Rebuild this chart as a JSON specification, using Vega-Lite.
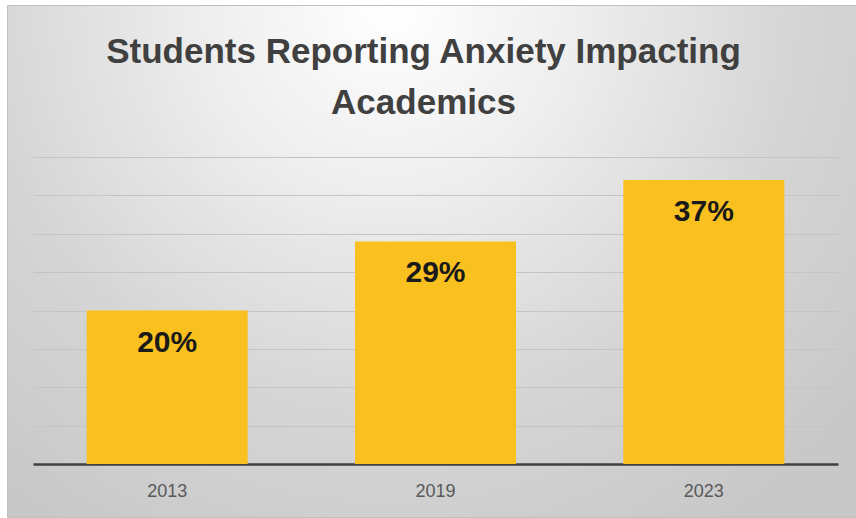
{
  "$schema": "https://vega.github.io/schema/vega-lite/v6.json",
  "width": 849,
  "height": 512,
  "autosize": {"type": "none"},
  "padding": {"left": 7, "top": 5, "right": 0, "bottom": 1},
  "background": "#ffffff",
  "view": {
    "stroke": "#c0c0c0",
    "strokeWidth": 1,
    "fill": {
      "gradient": "radial",
      "x1": 0.45, "y1": 0.2, "r1": 0,
      "x2": 0.45, "y2": 0.2, "r2": 0.72,
      "stops": [
        {"offset": 0, "color": "#ffffff"},
        {"offset": 0.3, "color": "#eeeeee"},
        {"offset": 0.67, "color": "#d5d5d5"},
        {"offset": 1, "color": "#c8c8c8"}
      ]
    }
  },
  "title": {
    "text": ["Students Reporting Anxiety Impacting", "Academics"],
    "font": "Liberation Sans",
    "fontWeight": "bold",
    "fontSize": 35,
    "color": "#404040",
    "lineHeight": 51,
    "anchor": "middle",
    "frame": "group",
    "baseline": "top",
    "offset": -116,
    "dx": -8
  },
  "data": {
    "values": [
      {"year": "2013", "share": 0.20},
      {"year": "2019", "share": 0.29},
      {"year": "2023", "share": 0.37}
    ]
  },
  "encoding": {
    "x": {
      "field": "year",
      "type": "nominal",
      "sort": null,
      "scale": {"type": "band", "range": [26, 831], "paddingInner": 0.4, "paddingOuter": 0.2},
      "axis": {
        "title": null,
        "orient": "bottom",
        "offset": -53,
        "domainColor": "#404040",
        "domainWidth": 2.5,
        "ticks": false,
        "labelAngle": 0,
        "labelFont": "Liberation Sans",
        "labelFontSize": 18,
        "labelColor": "#595959",
        "labelPadding": 18
      }
    },
    "y": {
      "field": "share",
      "type": "quantitative",
      "scale": {"domain": [-0.069, 0.598], "nice": false, "zero": false},
      "axis": {
        "title": null,
        "domain": false,
        "ticks": false,
        "labels": false,
        "grid": true,
        "gridColor": "#c4c4c4",
        "gridWidth": 1,
        "values": [0.05, 0.1, 0.15, 0.2, 0.25, 0.3, 0.35, 0.4]
      }
    }
  },
  "layer": [
    {
      "mark": {"type": "bar", "color": "#F9C11F"}
    },
    {
      "mark": {
        "type": "text",
        "baseline": "middle",
        "dy": 32,
        "font": "Liberation Sans",
        "fontWeight": "bold",
        "fontSize": 30,
        "color": "#1a1a1a"
      },
      "encoding": {
        "text": {"field": "share", "type": "quantitative", "format": ".0%"}
      }
    }
  ]
}
